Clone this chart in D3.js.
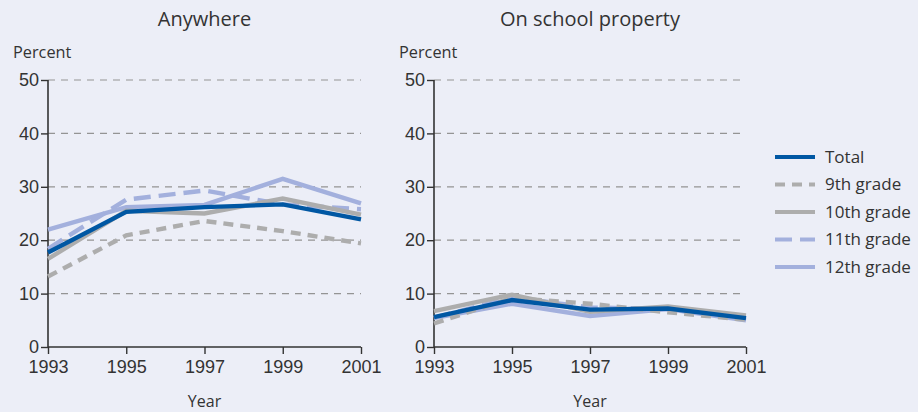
<!DOCTYPE html>
<html>
<head>
<meta charset="utf-8">
<script src="https://cdn.jsdelivr.net/npm/d3@7"></script>
<style>
  html, body { margin: 0; padding: 0; background: #ECEEF7; }
  svg { display: block; font-family: "Open Sans", "Lato", sans-serif; }
</style>
</head>
<body>
<svg id="chart" width="918" height="412"></svg>
<script>
// Marijuana use by grade, anywhere and on school property (percent)
const years = [1993, 1995, 1997, 1999, 2001];
const yTicks = [0, 10, 20, 30, 40, 50];

const anywhereTotal = [17.7, 25.3, 26.2, 26.7, 23.9];
const anywhere9th   = [13.2, 20.9, 23.6, 21.7, 19.4];
const anywhere10th  = [16.5, 25.5, 25.0, 27.8, 24.8];
const anywhere11th  = [18.4, 27.6, 29.3, 26.7, 25.8];
const anywhere12th  = [22.0, 26.2, 26.6, 31.5, 26.9];

const schoolTotal = [5.6, 8.8, 7.0, 7.2, 5.4];
const school9th   = [4.4, 9.2, 8.1, 6.5, 5.1];
const school10th  = [6.7, 9.8, 6.6, 7.6, 5.9];
const school11th  = [5.5, 9.3, 7.4, 7.1, 5.3];
const school12th  = [5.4, 8.1, 5.8, 7.1, 5.0];

const seriesNames = ["Total", "9th grade", "10th grade", "11th grade", "12th grade"];

const styles = {
  "Total":      { color: "#0057A3", dash: null },
  "9th grade":  { color: "#ADADAD", dash: "10,7" },
  "10th grade": { color: "#ADADAD", dash: null },
  "11th grade": { color: "#A3B0DD", dash: "17,8" },
  "12th grade": { color: "#A3B0DD", dash: null }
};

const panels = [
  { title: "Anywhere", x0: 48, x1: 361,
    data: { "Total": anywhereTotal, "9th grade": anywhere9th, "10th grade": anywhere10th,
            "11th grade": anywhere11th, "12th grade": anywhere12th } },
  { title: "On school property", x0: 434, x1: 746,
    data: { "Total": schoolTotal, "9th grade": school9th, "10th grade": school10th,
            "11th grade": school11th, "12th grade": school12th } }
];

const svg = d3.select("#chart");
const textColor = "#333";
const y = d3.scaleLinear().domain([0, 50]).range([347, 80]);
const drawOrder = ["12th grade", "11th grade", "10th grade", "9th grade", "Total"];

panels.forEach(p => {
  const x = d3.scalePoint().domain(years).range([p.x0, p.x1]);
  const g = svg.append("g");

  // dashed gridlines
  g.append("g").selectAll("line").data(yTicks.filter(d => d > 0)).join("line")
    .attr("x1", p.x0).attr("x2", p.x1)
    .attr("y1", d => y(d)).attr("y2", d => y(d))
    .attr("stroke", "#949494").attr("stroke-width", 1.2)
    .attr("stroke-dasharray", "7,6");

  // y axis
  const yAxis = g.append("g").attr("transform", `translate(${p.x0},0)`)
    .call(d3.axisLeft(y).tickValues(yTicks).tickSize(7).tickPadding(2));
  // x axis
  const xAxis = g.append("g").attr("transform", `translate(0,${y(0)})`)
    .call(d3.axisBottom(x).tickSize(7).tickPadding(6).tickFormat(d3.format("d")));

  [yAxis, xAxis].forEach(a => {
    a.select(".domain").attr("stroke", "#333").attr("stroke-width", 1.6);
    a.selectAll(".tick line").attr("stroke", "#333").attr("stroke-width", 1.4);
    a.selectAll(".tick text").attr("fill", textColor).style("font-size", "18px");
  });
  yAxis.select(".domain").attr("d", `M0,${y(50)}V${y(0)}`);
  xAxis.select(".domain").attr("d", `M${p.x0},0H${p.x1}`);

  // lines
  const line = d3.line().x((d, i) => x(years[i])).y(d => y(d));
  drawOrder.forEach(name => {
    g.append("path").datum(p.data[name])
      .attr("d", line)
      .attr("fill", "none")
      .attr("stroke", styles[name].color)
      .attr("stroke-width", 4.4)
      .attr("stroke-dasharray", styles[name].dash)
      .attr("stroke-linejoin", "miter");
  });

  // titles
  g.append("text").attr("x", (p.x0 + p.x1) / 2).attr("y", 26)
    .attr("text-anchor", "middle").attr("fill", textColor)
    .style("font-size", "20px").text(p.title);
  g.append("text").attr("x", p.x0 - 35).attr("y", 58)
    .attr("fill", textColor).style("font-size", "16.3px").text("Percent");
  g.append("text").attr("x", (p.x0 + p.x1) / 2).attr("y", 407)
    .attr("text-anchor", "middle").attr("fill", textColor)
    .style("font-size", "16px").text("Year");
});

// legend
const legend = svg.append("g").attr("transform", "translate(775,157)");
const legendRow = legend.selectAll("g").data(seriesNames).join("g")
  .attr("transform", (d, i) => `translate(0,${i * 27.5})`);
legendRow.append("line")
  .attr("x1", 0).attr("x2", 40).attr("y1", 0).attr("y2", 0)
  .attr("stroke", d => styles[d].color)
  .attr("stroke-width", 4)
  .attr("stroke-dasharray", d => styles[d].dash);
legendRow.append("text")
  .attr("x", 50).attr("y", 0).attr("dy", "0.35em")
  .attr("fill", textColor).style("font-size", "17px")
  .text(d => d);
</script>
</body>
</html>
